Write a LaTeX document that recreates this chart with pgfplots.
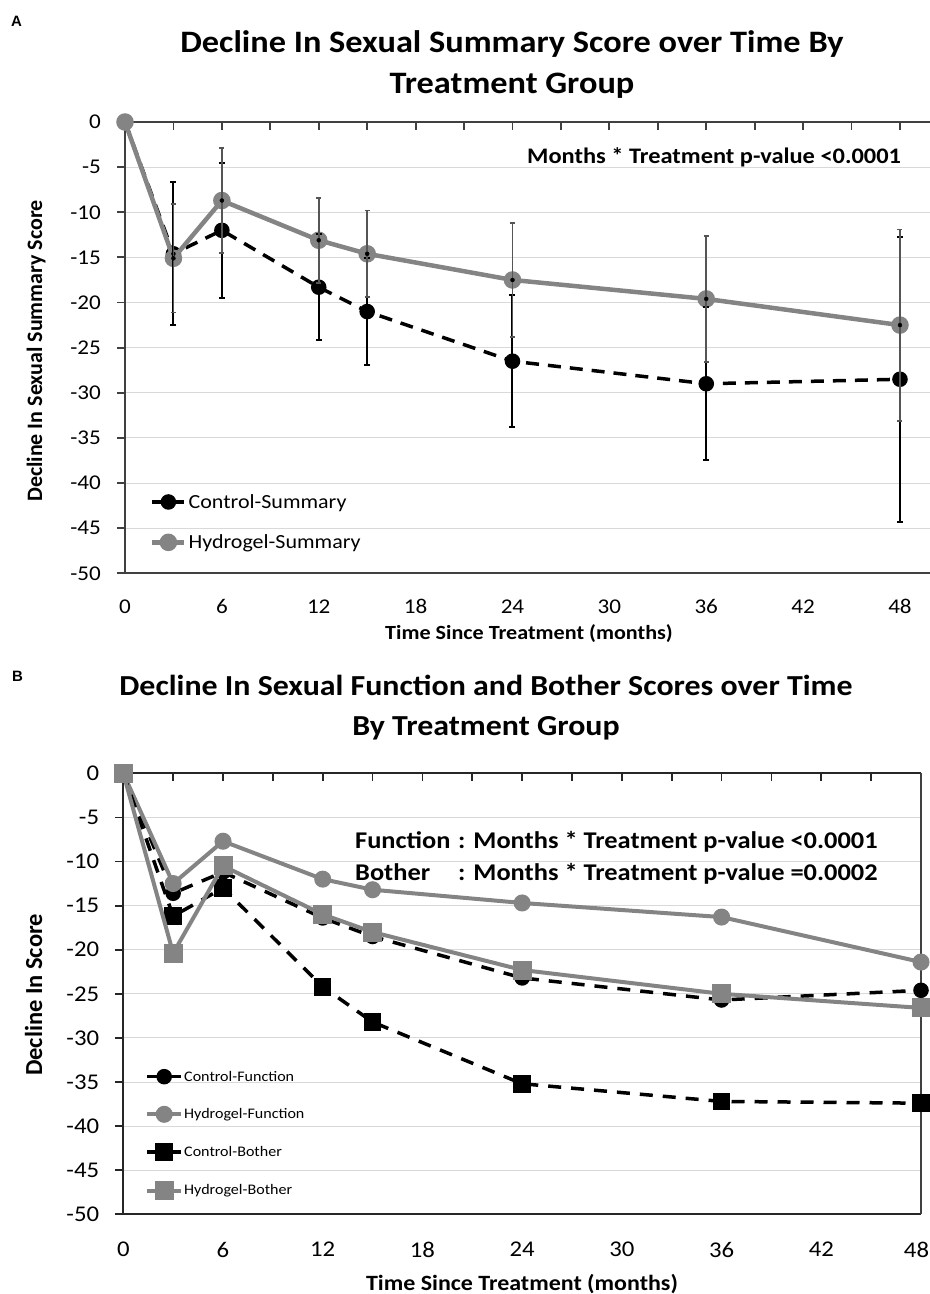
\documentclass[border=0pt]{standalone}
\usepackage{fontspec}
\setmainfont{Carlito}[FakeStretch=1.1]
\newfontfamily\plainf{Carlito}
\newfontfamily\arialf{Liberation Sans}
\usepackage{pgfplots}
\pgfplotsset{compat=1.18}
\definecolor{grayline}{RGB}{132,132,132}
\definecolor{grayerr}{RGB}{85,85,85}
\definecolor{axisA}{RGB}{64,64,64}
\definecolor{axisB}{RGB}{38,38,38}
\definecolor{gridc}{RGB}{217,217,217}
\pgfplotsset{
  myaxis/.style={
    scale only axis, clip=false, clip marker paths=true,
    ymin=-50, ymax=0, ytick={-50,-45,...,0},
    xmin=0,
    xtick={0,3,...,48},
    xtick pos=right, xticklabel pos=left,
    ytick pos=left,
    ymajorgrids, major grid style={gridc, line width=1bp},
    axis line style={draw=none},
    /pgf/number format/assume math mode=true,
    major tick length=8bp,
    ytick style={xshift=-8bp},
    legend cell align=left,
  },
  ctrl/.style={black, line width=3.5bp, dash pattern=on 13bp off 9bp, mark options={solid}},
  hydro/.style={grayline, line width=4.5bp, mark options={solid}},
}
\begin{document}
\begin{tikzpicture}
\path[use as bounding box] (0,0) rectangle (930bp,-1294bp);
% ---------------- Panel A ----------------
\begin{axis}[myaxis,
  at={(125bp,-573.3bp)}, anchor=south west,
  width=805bp, height=451.3bp, xmax=49.86,
  xticklabels={0,,6,,12,,18,,24,,30,,36,,42,,48},
  tick style={axisA, line width=1.8bp},
  tick label style={font=\fontsize{21bp}{25bp}\selectfont},
  yticklabel style={inner sep=0pt, xshift=-24bp},
  xticklabel style={inner sep=0pt, yshift=-26bp},
  legend style={at={(0.031,0.180)}, anchor=north west, draw=none, fill=none,
    inner xsep=0pt, inner ysep=0pt, row sep=21bp,
    font=\fontsize{20bp}{24bp}\selectfont, nodes={inner sep=2bp}},
  legend image code/.code={\draw[mark repeat=2,mark phase=2,#1] plot coordinates {(0bp,0bp)(16bp,0bp)(32bp,0bp)};},
]
\draw[axisA, line width=2.2bp] (rel axis cs:0,0) -- (rel axis cs:1,0);
\draw[axisA, line width=2.2bp] (rel axis cs:0,0) -- (rel axis cs:0,1) -- (rel axis cs:1,1);
\addplot[ctrl, mark=*, mark size=6bp] coordinates {(0,0)(3,-14.6)(6,-12.0)(12,-18.3)(15,-21.0)(24,-26.5)(36,-29.0)(48,-28.5)};
\addlegendentry{Control-Summary}
\addplot[hydro, mark=*, mark size=6.5bp] coordinates {(0,0)(3,-15.1)(6,-8.7)(12,-13.1)(15,-14.6)(24,-17.5)(36,-19.6)(48,-22.5)};
\addlegendentry{Hydrogel-Summary}
\addplot[only marks, mark=none, forget plot, error bars/.cd, y dir=both, y explicit,
  error bar style={black, line width=2bp, solid},
  error mark options={rotate=90, black, mark size=3bp, line width=2bp}]
  coordinates {(3,-14.6) +- (0,7.9) (6,-12.0) +- (0,7.5) (12,-18.3) +- (0,5.9) (15,-21.0) +- (0,5.9) (24,-26.5) +- (0,7.3) (36,-29.0) +- (0,8.5) (48,-28.5) +- (0,15.8)};
\addplot[only marks, mark=none, forget plot, error bars/.cd, y dir=both, y explicit,
  error bar style={grayerr, line width=1.8bp, solid},
  error mark options={rotate=90, grayerr, mark size=2.5bp, line width=1.8bp}]
  coordinates {(3,-15.1) +- (0,6.0) (6,-8.7) +- (0,5.8) (12,-13.1) +- (0,4.7) (15,-14.6) +- (0,4.8) (24,-17.5) +- (0,6.3) (36,-19.6) +- (0,7.0) (48,-22.5) +- (0,10.6)};
\end{axis}
% ---------------- Panel B ----------------
\begin{axis}[myaxis,
  at={(123.3bp,-1214.3bp)}, anchor=south west,
  width=797.7bp, height=441bp, xmax=48,
  xticklabels={0,,6,,12,,18,,24,,30,,36,,42,,48\hspace*{9bp}},
  tick style={axisB, line width=1.8bp},
  tick label style={font=\fontsize{22.5bp}{26bp}\selectfont},
  yticklabel style={inner sep=0pt, xshift=-24bp},
  xticklabel style={inner sep=0pt, yshift=-27.4bp},
  legend style={at={(0.0272,0.328)}, anchor=north west, draw=none, fill=none,
    inner xsep=0pt, inner ysep=0pt, row sep=24bp,
    font=\fontsize{14.6bp}{17bp}\selectfont, nodes={inner sep=1bp}},
  legend image code/.code={\draw[mark repeat=2,mark phase=2,#1] plot coordinates {(0bp,0bp)(17bp,0bp)(34bp,0bp)};},
]
\draw[axisB, line width=2.2bp] (rel axis cs:0,1) -- (rel axis cs:0,0) -- (rel axis cs:1,0);
\draw[axisB, line width=2.2bp] (rel axis cs:0,1) -- (rel axis cs:1,1);
\draw[axisA, line width=1.6bp] (rel axis cs:1,1) -- (rel axis cs:1,0);
\addplot[ctrl, line width=3.5bp, dash pattern=on 13bp off 10bp, mark=*, mark size=6bp] coordinates {(0,0)(3,-13.6)(6,-11.2)(12,-16.4)(15,-18.5)(24,-23.2)(36,-25.7)(48,-24.6)};
\addlegendentry{Control-Function}
\addplot[hydro, line width=4bp, mark=*, mark size=6.5bp] coordinates {(0,0)(3,-12.5)(6,-7.7)(12,-12.0)(15,-13.2)(24,-14.7)(36,-16.3)(48,-21.4)};
\addlegendentry{Hydrogel-Function}
\addplot[ctrl, line width=3.5bp, dash pattern=on 13bp off 10bp, mark=square*, mark size=7bp] coordinates {(0,0)(3,-16.2)(6,-13.0)(12,-24.2)(15,-28.2)(24,-35.2)(36,-37.2)(48,-37.4)};
\addlegendentry{Control-Bother}
\addplot[hydro, line width=4bp, mark=square*, mark size=7.5bp] coordinates {(0,0)(3,-20.4)(6,-10.5)(12,-16.0)(15,-18.0)(24,-22.3)(36,-25.0)(48,-26.6)};
\addlegendentry{Hydrogel-Bother}
\end{axis}
% ---------------- Texts ----------------
\node[font=\arialf\bfseries\fontsize{15bp}{18bp}\selectfont, anchor=base west, inner sep=0pt] at (11bp,-26bp) {A};
\node[font=\arialf\bfseries\fontsize{15bp}{18bp}\selectfont, anchor=base west, inner sep=0pt] at (12bp,-681bp) {B};
\node[font=\bfseries\fontsize{31.2bp}{36bp}\selectfont, anchor=base, inner sep=0pt] at (512bp,-52bp) {Decline In Sexual Summary Score over Time By};
\node[font=\bfseries\fontsize{31.2bp}{36bp}\selectfont, anchor=base, inner sep=0pt] at (512bp,-93bp) {Treatment Group};
\node[font=\bfseries\fontsize{22.2bp}{26bp}\selectfont, anchor=base west, inner sep=0pt] at (527bp,-163bp) {Months * Treatment p-value <0.0001};
\node[font=\plainf\bfseries\fontsize{22bp}{26bp}\selectfont, anchor=base, inner sep=0pt, rotate=90] at (42bp,-351bp) {Decline In Sexual Summary Score};
\node[font=\bfseries\fontsize{20.1bp}{24bp}\selectfont, anchor=base, inner sep=0pt] at (529bp,-639bp) {Time Since Treatment (months)};
\node[font=\bfseries\fontsize{29bp}{34bp}\selectfont, anchor=base, inner sep=0pt] at (486bp,-695bp) {Decline In Sexual Function and Bother Scores over Time};
\node[font=\bfseries\fontsize{29bp}{34bp}\selectfont, anchor=base, inner sep=0pt] at (486bp,-735bp) {By Treatment Group};
\node[font=\bfseries\fontsize{24bp}{28bp}\selectfont, anchor=base west, inner sep=0pt] at (355bp,-848bp) {\makebox[103bp][l]{Function}: Months * Treatment p-value <0.0001};
\node[font=\bfseries\fontsize{24bp}{28bp}\selectfont, anchor=base west, inner sep=0pt] at (355bp,-880bp) {\makebox[103bp][l]{Bother}: Months * Treatment p-value =0.0002};
\node[font=\plainf\bfseries\fontsize{24.5bp}{28bp}\selectfont, anchor=base, inner sep=0pt, rotate=90] at (42bp,-995bp) {Decline In Score};
\node[font=\bfseries\fontsize{21.8bp}{25bp}\selectfont, anchor=base, inner sep=0pt] at (522bp,-1290bp) {Time Since Treatment (months)};
\end{tikzpicture}
\end{document}
